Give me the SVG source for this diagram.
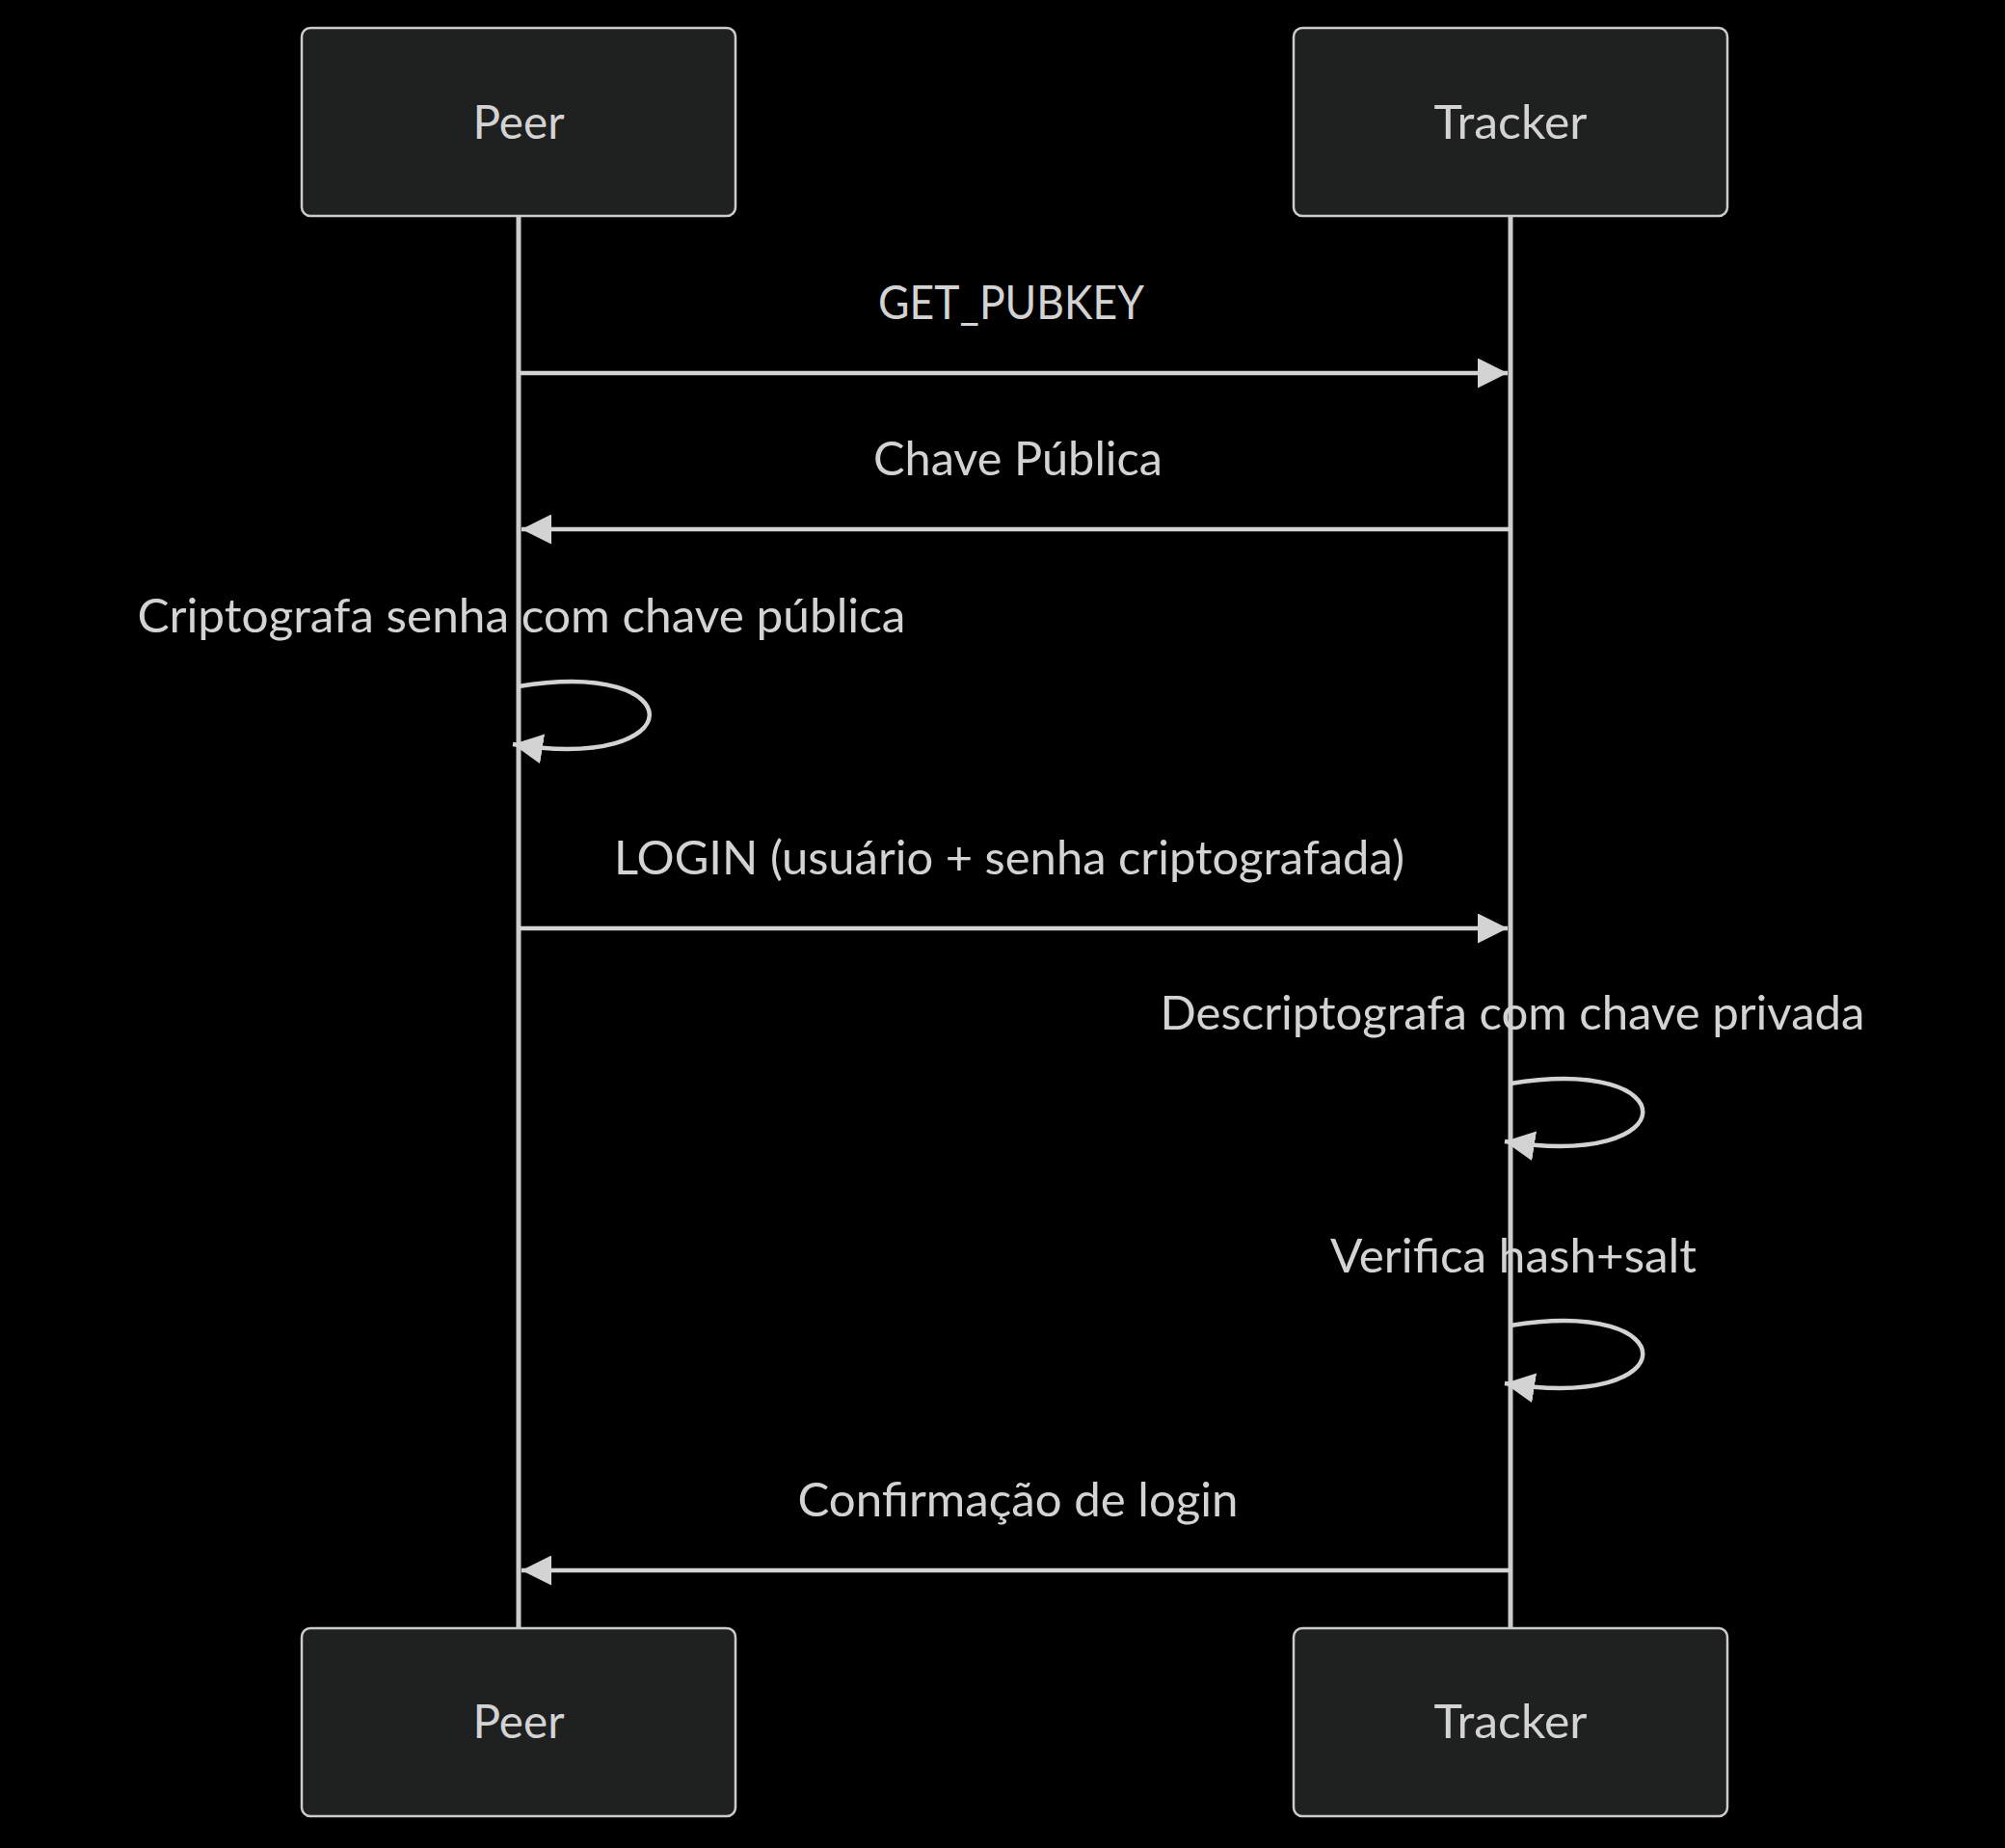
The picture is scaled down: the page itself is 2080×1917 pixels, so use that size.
<svg xmlns="http://www.w3.org/2000/svg" width="2080" height="1917" viewBox="0 0 2080 1917">
<style>
.actor{fill:#1f2020;stroke:#cccccc;stroke-width:2.5}
.atext{fill:#d3d3d3;font-family:Lato,"Liberation Sans",sans-serif;font-size:48px;text-anchor:middle}
.mtext{fill:#d3d3d3;font-family:Lato,"Liberation Sans",sans-serif;font-size:48px;text-anchor:middle}
.life{stroke:#cccccc;stroke-width:5;fill:none}
.msg{stroke:#d3d3d3;stroke-width:4.5;fill:none}
</style>
<defs>
<marker id="ah" markerUnits="userSpaceOnUse" viewBox="0 0 10 10" refX="10" refY="5" markerWidth="31" markerHeight="31" orient="auto">
<path d="M0,0 L10,5 L0,10 z" fill="#d3d3d3"/>
</marker>
</defs>
<rect width="2080" height="1917" fill="#000000"/>
<g id="lifelines">
<line class="life" x1="538" y1="224" x2="538" y2="1689"/>
<line class="life" x1="1567" y1="224" x2="1567" y2="1689"/>
</g>
<g id="peer-top">
<rect class="actor" x="313" y="29" width="450" height="195" rx="9"/>
<text class="atext" x="538" y="144" textLength="95" lengthAdjust="spacingAndGlyphs">Peer</text>
</g>
<g id="tracker-top">
<rect class="actor" x="1342" y="29" width="450" height="195" rx="9"/>
<text class="atext" x="1567" y="144" textLength="159" lengthAdjust="spacingAndGlyphs">Tracker</text>
</g>
<g id="peer-bottom">
<rect class="actor" x="313" y="1689" width="450" height="195" rx="9"/>
<text class="atext" x="538" y="1803" textLength="95" lengthAdjust="spacingAndGlyphs">Peer</text>
</g>
<g id="tracker-bottom">
<rect class="actor" x="1342" y="1689" width="450" height="195" rx="9"/>
<text class="atext" x="1567" y="1803" textLength="159" lengthAdjust="spacingAndGlyphs">Tracker</text>
</g>
<g id="connectors">
<line class="msg" x1="538" y1="387" x2="1564" y2="387" marker-end="url(#ah)"/>
<line class="msg" x1="1567" y1="549" x2="541" y2="549" marker-end="url(#ah)"/>
<path class="msg" d="M538,712 C720,682 720,802 532,772" marker-end="url(#ah)"/>
<line class="msg" x1="538" y1="963" x2="1564" y2="963" marker-end="url(#ah)"/>
<path class="msg" d="M1567,1124 C1751,1094 1751,1214 1561,1184" marker-end="url(#ah)"/>
<path class="msg" d="M1567,1375 C1751,1345 1751,1465 1561,1435" marker-end="url(#ah)"/>
<line class="msg" x1="1567" y1="1629" x2="541" y2="1629" marker-end="url(#ah)"/>
</g>
<g id="labels">
<text class="mtext" x="1049" y="331" textLength="276" lengthAdjust="spacingAndGlyphs">GET_PUBKEY</text>
<text class="mtext" x="1056" y="493" textLength="300" lengthAdjust="spacingAndGlyphs">Chave Pública</text>
<text class="mtext" x="541" y="656" textLength="797" lengthAdjust="spacingAndGlyphs">Criptografa senha com chave pública</text>
<text class="mtext" x="1047" y="907" textLength="820" lengthAdjust="spacingAndGlyphs">LOGIN (usuário + senha criptografada)</text>
<text class="mtext" x="1569" y="1068" textLength="731" lengthAdjust="spacingAndGlyphs">Descriptografa com chave privada</text>
<text class="mtext" x="1570" y="1320" textLength="380" lengthAdjust="spacingAndGlyphs">Verifica hash+salt</text>
<text class="mtext" x="1056" y="1573" textLength="457" lengthAdjust="spacingAndGlyphs">Confirmação de login</text>
</g>
</svg>
